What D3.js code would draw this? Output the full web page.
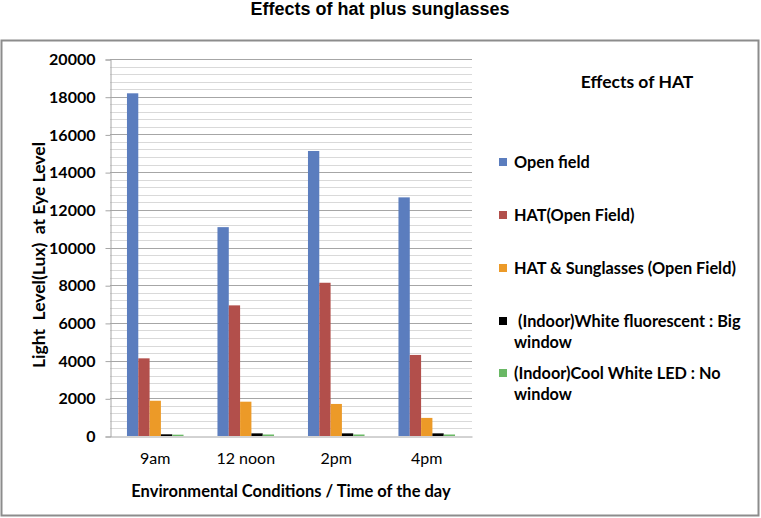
<!DOCTYPE html>
<html>
<head>
<meta charset="utf-8">
<script src="https://cdn.jsdelivr.net/npm/d3@7"></script>
<style>
  body { margin: 0; background: #fff; }
  text { font-family: Lato, "Open Sans", sans-serif; }
</style>
</head>
<body>
<div id="chart"></div>
<script>
// categories and series
var categories = ["9am", "12 noon", "2pm", "4pm"];
var seriesNames = ["Open field", "HAT(Open Field)", "HAT & Sunglasses (Open Field)",
                   " (Indoor)White fluorescent : Big window", "(Indoor)Cool White LED : No window"];
var openField = [18180, 11080, 15120, 12660];
var hatOpen = [4120, 6930, 8130, 4300];
var hatSun = [1870, 1820, 1700, 960];
var whiteFluor = [90, 140, 140, 140];
var coolLed = [70, 80, 80, 80];
var yTicks = [0, 2000, 4000, 6000, 8000, 10000, 12000, 14000, 16000, 18000, 20000];
var colors = ["#5B7DBE", "#B24F4B", "#EC9A28", "#000000", "#6AB865"];

var values = [openField, hatOpen, hatSun, whiteFluor, coolLed];

var W = 761, H = 518;
var svg = d3.select("#chart").append("svg")
    .attr("width", W)
    .attr("height", H);

// chart title
svg.append("text")
    .attr("x", 380).attr("y", 15)
    .attr("text-anchor", "middle")
    .style("font-family", "'Liberation Sans', Arial, sans-serif")
    .style("font-weight", "bold")
    .style("font-size", "18px")
    .text("Effects of hat plus sunglasses");

// outer frame
svg.append("rect")
    .attr("x", 1.5).attr("y", 40.5)
    .attr("width", 757).attr("height", 475)
    .attr("fill", "none")
    .attr("stroke", "#8c8c8c")
    .attr("stroke-width", 2);

// scales
var plotLeft = 110, plotRight = 472, plotTop = 59, plotBottom = 436;
var x0 = d3.scaleBand().domain(categories).range([plotLeft, plotRight]);
var x1 = d3.scaleBand().domain(d3.range(seriesNames.length))
    .range([0, x0.bandwidth()]).paddingOuter(1.5);
var y = d3.scaleLinear().domain([0, 20000]).range([plotBottom, plotTop]);

// minor gridlines (every 400)
var minor = d3.range(400, 20001, 400);
svg.append("g").selectAll("line")
    .data(minor)
  .enter().append("line")
    .attr("x1", plotLeft).attr("x2", plotRight)
    .attr("y1", function(d) { return Math.round(y(d)) + 0.5; })
    .attr("y2", function(d) { return Math.round(y(d)) + 0.5; })
    .attr("stroke", function(d) { return d % 2000 === 0 ? "#a6a6a6" : "#d9d9d9"; })
    .attr("stroke-width", 1);

// bars
var groups = svg.append("g").selectAll("g")
    .data(categories)
  .enter().append("g")
    .attr("transform", function(d) { return "translate(" + x0(d) + ",0)"; });

groups.selectAll("rect")
    .data(function(d, i) { return values.map(function(s, k) { return {k: k, v: s[i]}; }); })
  .enter().append("rect")
    .attr("x", function(d) { return x1(d.k); })
    .attr("width", x1.bandwidth())
    .attr("y", function(d) { return y(d.v); })
    .attr("height", function(d) { return plotBottom - y(d.v); })
    .attr("fill", function(d) { return colors[d.k]; });

// Y axis
var yAxis = svg.append("g")
    .attr("transform", "translate(" + (plotLeft + 0.5) + ",0.5)")
    .call(d3.axisLeft(y).tickValues(yTicks).tickFormat(d3.format("d")).tickSize(5).tickPadding(10));
yAxis.select(".domain").attr("stroke", "#a6a6a6");
yAxis.selectAll(".tick line").attr("stroke", "#a6a6a6");
yAxis.selectAll(".tick text")
    .style("font-family", "Lato, sans-serif")
    .style("font-weight", "bold")
    .style("font-size", "16px")
    .attr("fill", "#000");

// X axis
var xAxis = svg.append("g")
    .attr("transform", "translate(0," + (plotBottom + 0.5) + ")")
    .call(d3.axisBottom(x0).tickSize(0).tickPadding(16));
xAxis.select(".domain").attr("stroke", "#a6a6a6");
xAxis.selectAll(".tick text")
    .style("font-family", "Lato, sans-serif")
    .style("font-size", "16px")
    .attr("fill", "#000");

// axis titles
svg.append("text")
    .attr("x", (plotLeft + plotRight) / 2).attr("y", 497)
    .attr("text-anchor", "middle")
    .style("font-weight", "bold")
    .style("font-size", "16.5px")
    .text("Environmental Conditions / Time of the day");

svg.append("text")
    .attr("transform", "translate(45,255) rotate(-90)")
    .attr("text-anchor", "middle")
    .attr("xml:space", "preserve")
    .style("font-weight", "bold")
    .style("font-size", "17.5px")
    .text("Light  Level(Lux)  at Eye Level");

// legend
svg.append("text")
    .attr("x", 637).attr("y", 88)
    .attr("text-anchor", "middle")
    .style("font-weight", "bold")
    .style("font-size", "17.5px")
    .text("Effects of HAT");

var legendRows = [
  {lines: ["Open field"], y: 162},
  {lines: ["HAT(Open Field)"], y: 215},
  {lines: ["HAT & Sunglasses (Open Field)"], y: 268},
  {lines: [" (Indoor)White fluorescent : Big", "window"], y: 321},
  {lines: ["(Indoor)Cool White LED : No", "window"], y: 373}
];

var leg = svg.append("g").selectAll("g")
    .data(legendRows)
  .enter().append("g");

leg.append("rect")
    .attr("x", 499).attr("y", function(d) { return d.y - 4; })
    .attr("width", 8).attr("height", 8)
    .attr("fill", function(d, i) { return colors[i]; });

leg.each(function(d) {
  var g = d3.select(this);
  d.lines.forEach(function(line, j) {
    g.append("text")
      .attr("x", 514).attr("y", d.y + 6 + j * 21)
      .attr("xml:space", "preserve")
      .style("font-weight", "bold")
      .style("font-size", "16.3px")
      .text(line);
  });
});
</script>
</body>
</html>
